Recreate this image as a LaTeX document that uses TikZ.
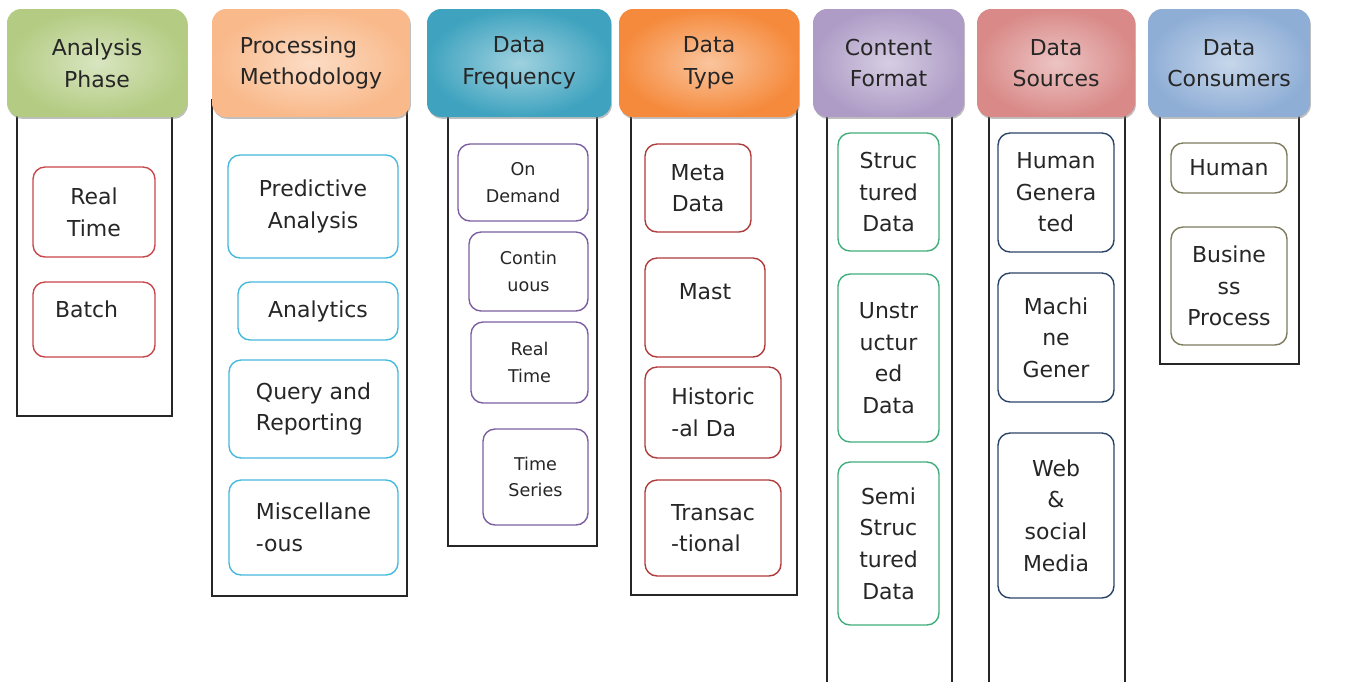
\documentclass[tikz,border=0pt]{standalone}
\usepackage{fontspec}
\setmainfont{DejaVu Sans}
\usetikzlibrary{shadows}

\definecolor{apGreen}{HTML}{B3CB82}
\definecolor{pmOrange}{HTML}{F9B98A}
\definecolor{dfTeal}{HTML}{3FA3BF}
\definecolor{dtOrange}{HTML}{F58A3C}
\definecolor{cfLilac}{HTML}{AE9CC6}
\definecolor{dsRose}{HTML}{D98A88}
\definecolor{dcBlue}{HTML}{8FAED6}

\definecolor{apLine}{HTML}{C8464A}
\definecolor{pmLine}{HTML}{45B8DC}
\definecolor{dfLine}{HTML}{7B5EA0}
\definecolor{dtLine}{HTML}{B03A3A}
\definecolor{cfLine}{HTML}{3FAE7C}
\definecolor{dsLine}{HTML}{2A4468}
\definecolor{dcLine}{HTML}{7D7B5C}

\begin{document}
\begin{tikzpicture}[x=0.02cm, y=-0.02cm,
		col/.style={draw=black!85, line width=0.7pt, inner sep=0pt},
		head/.style={inner color=#1!50!white, outer color=#1, rounded corners=0.28cm, minimum height=2.16cm, align=center, text=black!85, font=\fontsize{12.5}{18}\selectfont, drop shadow={shadow xshift=0.5pt, shadow yshift=-1pt, opacity=0.5}},
		item/.style={draw=#1, line width=0.8pt, rounded corners=0.24cm, align=center, inner sep=2pt, text=black!85, font=\fontsize{12.5}{18}\selectfont},
		small/.style={font=\fontsize{10}{15}\selectfont}
	]
			\useasboundingbox (0,0) rectangle (1358,681);
			\clip (0,0) rectangle (1358,681);
			% columns
			\node	(colap) at (94.5,258) [col, minimum width=3.1cm, minimum height=6.32cm] {};
			\node	(colpm) at (309.5,348) [col, minimum width=3.9cm, minimum height=9.92cm] {};
			\node	(coldf) at (522.5,323) [col, minimum width=2.98cm, minimum height=8.92cm] {};
			\node	(coldt) at (714,347.5) [col, minimum width=3.32cm, minimum height=9.9cm] {};
			\node	(colcf) at (889.5,400) [col, minimum width=2.5cm, minimum height=12cm] {};
			\node	(colds) at (1057,400) [col, minimum width=2.72cm, minimum height=12cm] {};
			\node	(coldc) at (1229.5,232) [col, minimum width=2.78cm, minimum height=5.28cm] {};
			% headers
			\node	(ap) at (97,63) [head=apGreen, minimum width=3.6cm] {Analysis\\Phase};
			\node	(pm) at (311,63) [head=pmOrange, minimum width=3.96cm, align=left] {Processing\\Methodology};
			\node	(df) at (519,63) [head=dfTeal, minimum width=3.68cm] {Data\\Frequency};
			\node	(dt) at (709,63) [head=dtOrange, minimum width=3.6cm] {Data\\Type};
			\node	(cf) at (888.5,63) [head=cfLilac, minimum width=3.02cm] {Content\\Format};
			\node	(ds) at (1056,63) [head=dsRose, minimum width=3.16cm] {Data\\Sources};
			\node	(dc) at (1229,63) [head=dcBlue, minimum width=3.24cm] {Data\\Consumers};
			% analysis phase
			\node	(aprt) at (94,212) [item=apLine, minimum width=2.44cm, minimum height=1.8cm] {Real\\Time};
			\node	(apb) at (94,319.5) [item=apLine, minimum width=2.44cm, minimum height=1.5cm, align=left, text width=1.56cm, inner xsep=0.44cm] {Batch\\[-6pt]\mbox{}};
			% processing methodology
			\node	(pmpa) at (313,206.5) [item=pmLine, minimum width=3.4cm, minimum height=2.06cm] {Predictive\\Analysis};
			\node	(pman) at (318,311) [item=pmLine, minimum width=3.2cm, minimum height=1.16cm] {Analytics};
			\node	(pmqr) at (313.5,409) [item=pmLine, minimum width=3.38cm, minimum height=1.96cm, align=left] {Query and\\Reporting};
			\node	(pmmi) at (313.5,527.5) [item=pmLine, minimum width=3.38cm, minimum height=1.9cm, align=left] {Miscellane\\-ous};
			% data frequency
			\node	(dfod) at (523,182.5) [item=dfLine, small, minimum width=2.6cm, minimum height=1.54cm] {On\\Demand};
			\node	(dfco) at (528.5,271.5) [item=dfLine, small, minimum width=2.38cm, minimum height=1.58cm] {Contin\\uous};
			\node	(dfrt) at (529.5,362.5) [item=dfLine, small, minimum width=2.34cm, minimum height=1.62cm] {Real\\Time};
			\node	(dfts) at (535.5,477) [item=dfLine, small, minimum width=2.1cm, minimum height=1.92cm] {Time\\Series};
			% data type
			\node	(dtmd) at (698,188) [item=dtLine, minimum width=2.12cm, minimum height=1.76cm] {Meta\\Data};
			\node	(dtma) at (705,307.5) [item=dtLine, minimum width=2.4cm, minimum height=1.98cm] {Mast\\\mbox{}};
			\node	(dthi) at (713,412.5) [item=dtLine, minimum width=2.72cm, minimum height=1.82cm, align=left] {Historic\\-al Da};
			\node	(dttr) at (713,528) [item=dtLine, minimum width=2.72cm, minimum height=1.92cm, align=left] {Transac\\-tional};
			% content format
			\node	(cfst) at (888.5,192) [item=cfLine, minimum width=2.02cm, minimum height=2.36cm] {Struc\\tured\\Data};
			\node	(cfun) at (888.5,358) [item=cfLine, minimum width=2.02cm, minimum height=3.36cm] {Unstr\\uctur\\ed\\Data};
			\node	(cfse) at (888.5,543.5) [item=cfLine, minimum width=2.02cm, minimum height=3.26cm] {Semi\\Struc\\tured\\Data};
			% data sources
			\node	(dshg) at (1056,192.5) [item=dsLine, minimum width=2.32cm, minimum height=2.38cm] {Human\\Genera\\ted};
			\node	(dsmg) at (1056,337.5) [item=dsLine, minimum width=2.32cm, minimum height=2.58cm] {Machi\\ne\\Gener};
			\node	(dsws) at (1056,515.5) [item=dsLine, minimum width=2.32cm, minimum height=3.3cm] {Web\\\&\\social\\Media};
			% data consumers
			\node	(dchu) at (1229,168) [item=dcLine, minimum width=2.32cm, minimum height=1cm] {Human};
			\node	(dcbp) at (1229,286) [item=dcLine, minimum width=2.32cm, minimum height=2.36cm] {Busine\\ss\\Process};
		\end{tikzpicture}
\end{document}
